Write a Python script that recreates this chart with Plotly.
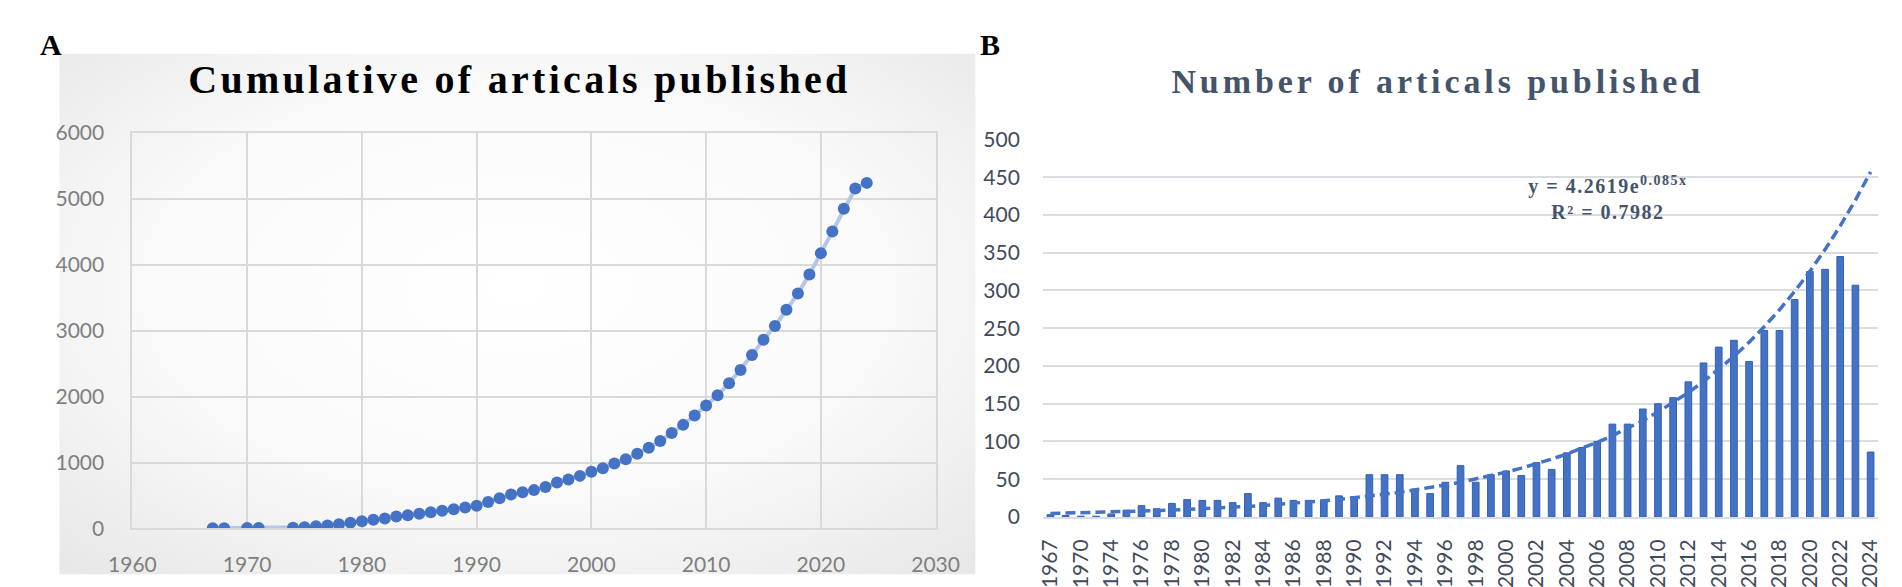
import base64
import math
import plotly.graph_objects as go

# ---------------- data ----------------
years = [1967, 1968, 1970, 1971, 1974, 1975, 1976, 1977, 1978, 1979,
         1980, 1981, 1982, 1983, 1984, 1985, 1986, 1987, 1988, 1989,
         1990, 1991, 1992, 1993, 1994, 1995, 1996, 1997, 1998, 1999,
         2000, 2001, 2002, 2003, 2004, 2005, 2006, 2007, 2008, 2009,
         2010, 2011, 2012, 2013, 2014, 2015, 2016, 2017, 2018, 2019,
         2020, 2021, 2022, 2023, 2024]

counts = [3, 2, 1, 1, 4, 9, 15, 11, 18, 23,
          22, 22, 19, 31, 19, 25, 22, 22, 22, 28,
          27, 56, 56, 56, 37, 31, 46, 68, 46, 56,
          61, 55, 72, 63, 85, 92, 100, 123, 123, 143,
          150, 158, 179, 204, 225, 234, 206, 247, 247, 288,
          325, 328, 345, 307, 86]

cumulative = []
running = 0
for c in counts:
    running += c
    cumulative.append(running)

# trendline printed on chart B: y = 4.2619 e^(0.085 x), x = category index (1-based)
trend_a = 4.2619
trend_b = 0.085

year_labels = [str(y) for y in years]
shown_labels = year_labels[::2]

# ---------------- styles ----------------
W, H = 1902, 587
BLUE = "#4472C4"
LIGHT_BLUE = "#B4C7E7"
SLATE = "#44546A"
GRID_A = "#D9D9D9"
GRID_B = "#D9DCE1"

trend_y = [trend_a * math.exp(trend_b * (i + 1)) for i in range(len(years))]

fig = go.Figure()

# Panel A : cumulative
fig.add_trace(go.Scatter(
    x=years, y=cumulative, mode="lines+markers",
    line=dict(color=LIGHT_BLUE, width=4),
    marker=dict(color=BLUE, size=12),
    xaxis="x", yaxis="y", showlegend=False, hoverinfo="x+y"))

# Panel B : annual counts
fig.add_trace(go.Bar(
    x=year_labels, y=counts,
    marker=dict(color=BLUE, line=dict(color="#3560B3", width=1)),
    xaxis="x2", yaxis="y2", showlegend=False))

fig.add_trace(go.Scatter(
    x=year_labels, y=trend_y, mode="lines",
    line=dict(color=BLUE, width=3.5, dash="10px,5px"),
    xaxis="x2", yaxis="y2", showlegend=False, hoverinfo="skip"))


def px_x(v):
    return v / W


def px_y(v):
    return 1 - v / H


tick_font_a = dict(family="Lato, Open Sans, sans-serif", size=21, color="#7F7F7F")
tick_font_b = dict(family="Lato, Open Sans, sans-serif", size=21, color="#3F4B5B")

fig.update_layout(
    width=W, height=H,
    margin=dict(l=0, r=0, t=0, b=0),
    paper_bgcolor="white",
    plot_bgcolor="rgba(0,0,0,0)",
    bargap=0.56,
    xaxis=dict(domain=[px_x(103), px_x(927)], range=[1960, 2030], dtick=10,
               showgrid=True, gridcolor=GRID_A, gridwidth=2,
               showline=True, linecolor=GRID_A, linewidth=2, mirror=True,
               zeroline=False, ticks="", tickfont=tick_font_a,
               ticklabelstandoff=16, anchor="y"),
    yaxis=dict(domain=[px_y(529), px_y(116)], range=[0, 6000], dtick=1000,
               showgrid=True, gridcolor=GRID_A, gridwidth=2,
               showline=True, linecolor=GRID_A, linewidth=2, mirror=True,
               zeroline=False, ticks="", tickfont=tick_font_a,
               ticklabelstandoff=22, anchor="x"),
    xaxis2=dict(domain=[px_x(1037), px_x(1894)], type="category",
                categoryorder="array", categoryarray=year_labels,
                tickmode="array", tickvals=shown_labels, ticktext=shown_labels,
                tickangle=-90, showgrid=False, showline=True,
                linecolor=GRID_B, linewidth=2, ticks="",
                tickfont=tick_font_b, ticklabelstandoff=12, anchor="y2"),
    yaxis2=dict(domain=[px_y(517), px_y(122.7)], range=[0, 500], dtick=50,
                showgrid=True, gridcolor=GRID_B, gridwidth=2,
                zeroline=False, showline=False, ticks="",
                tickfont=tick_font_b, ticklabelstandoff=22, anchor="x2"),
)

# background gradient of panel A
svg = ("<svg xmlns='http://www.w3.org/2000/svg' width='940' height='544' "
       "viewBox='0 0 940 544' preserveAspectRatio='none'><defs>"
       "<radialGradient id='g' cx='50%' cy='45%' r='72%'>"
       "<stop offset='0' stop-color='#ffffff'/>"
       "<stop offset='0.55' stop-color='#fafafa'/>"
       "<stop offset='1' stop-color='#e8e8e8'/></radialGradient></defs>"
       "<rect width='940' height='544' fill='url(#g)'/></svg>")
src = "data:image/svg+xml;base64," + base64.b64encode(svg.encode()).decode()
fig.add_layout_image(dict(source=src, xref="paper", yref="paper",
                          x=px_x(28), y=px_y(33), sizex=940 / W, sizey=544 / H,
                          xanchor="left", yanchor="top", sizing="stretch",
                          layer="below"))

serif = "Liberation Serif, Times New Roman, serif"
fig.add_annotation(text="<b>A</b>", x=px_x(6), y=px_y(23), xref="paper", yref="paper",
                   xanchor="left", yanchor="middle", showarrow=False,
                   font=dict(family=serif, size=30, color="black"))
fig.add_annotation(text="<b>B</b>", x=px_x(971), y=px_y(23), xref="paper", yref="paper",
                   xanchor="left", yanchor="middle", showarrow=False,
                   font=dict(family=serif, size=30, color="black"))
fig.add_annotation(text="<b>Cumulative of articals published</b>",
                   x=px_x(500), y=px_y(60), xref="paper", yref="paper",
                   xanchor="center", yanchor="middle", showarrow=False,
                   font=dict(family=serif, size=40, color="black"))
fig.add_annotation(text="<b>Number of articals published</b>",
                   x=px_x(1442), y=px_y(62), xref="paper", yref="paper",
                   xanchor="center", yanchor="middle", showarrow=False,
                   font=dict(family=serif, size=34, color=SLATE))
fig.add_annotation(text="<b>y = 4.2619e<sup>0.085x</sup><br>R² = 0.7982</b>",
                   x=px_x(1617), y=px_y(184), xref="paper", yref="paper",
                   xanchor="center", yanchor="middle", showarrow=False,
                   font=dict(family=serif, size=20, color=SLATE))

# the reference figure's lettering is horizontally wide: widen titles with letter spacing
post_js = """
document.querySelectorAll('.annotation-text').forEach(function (el) {
  var t = el.textContent || '';
  if (t.indexOf('Cumulative') === 0) { el.style.letterSpacing = '3.3px'; }
  else if (t.indexOf('Number') === 0) { el.style.letterSpacing = '3.9px'; }
  else if (t.indexOf('y =') === 0) { el.style.letterSpacing = '1.5px'; }
});
"""

fig.write_html("out.html", post_script=post_js)
